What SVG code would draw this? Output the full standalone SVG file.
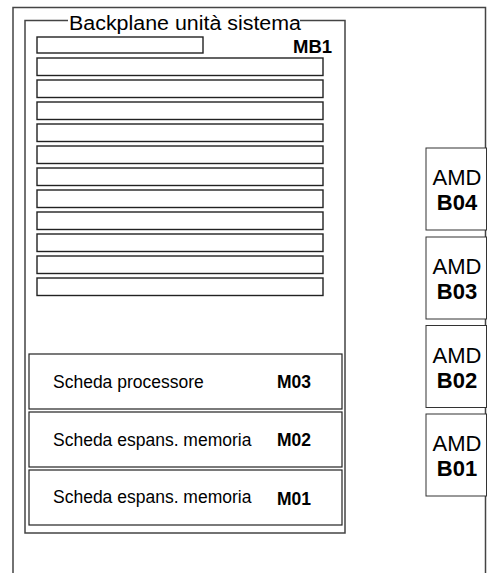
<svg xmlns="http://www.w3.org/2000/svg" width="489" height="573" viewBox="0 0 489 573">
<style>
  text { font-family: "Liberation Sans", Arial, sans-serif; fill: #000; }
  .frame { fill: none; stroke: #444; stroke-width: 1.5; }
  .slot { fill: #fff; stroke: #222; stroke-width: 1.4; }
  .card { fill: #fff; stroke: #222; stroke-width: 1.2; }
  .amd { fill: #fff; stroke: #333; stroke-width: 1; }
  .lbl { font-size: 17.5px; }
  .code { font-size: 17.5px; font-weight: bold; }
  .amdt { font-size: 22px; text-anchor: middle; }
  .amdb { font-size: 22px; font-weight: bold; text-anchor: middle; }
</style>
<rect width="489" height="573" fill="#fff"/>
<g id="enclosure">
  <path class="frame" d="M13,573 V7.5 H485.5 V573"/>
</g>
<g id="backplane">
  <path class="frame" d="M68,20.5 H25 V533 H345 V20.5 H300"/>
  <text x="69" y="29.5" font-size="19.5" textLength="232" lengthAdjust="spacingAndGlyphs">Backplane unità sistema</text>
  <text x="293" y="53.3" font-size="18.5" font-weight="bold">MB1</text>
  <rect class="slot" x="37" y="37" width="166" height="16"/>
  <rect class="slot" x="37" y="58" width="286" height="17.5"/>
  <rect class="slot" x="37" y="80" width="286" height="17.5"/>
  <rect class="slot" x="37" y="102" width="286" height="17.5"/>
  <rect class="slot" x="37" y="124" width="286" height="17.5"/>
  <rect class="slot" x="37" y="146" width="286" height="17.5"/>
  <rect class="slot" x="37" y="168" width="286" height="17.5"/>
  <rect class="slot" x="37" y="190" width="286" height="17.5"/>
  <rect class="slot" x="37" y="212" width="286" height="17.5"/>
  <rect class="slot" x="37" y="234" width="286" height="17.5"/>
  <rect class="slot" x="37" y="256" width="286" height="17.5"/>
  <rect class="slot" x="37" y="278" width="286" height="17.5"/>
</g>
<g id="M03">
  <rect class="card" x="29" y="354" width="313" height="55"/>
  <text class="lbl" x="53" y="388">Scheda processore</text>
  <text class="code" x="277" y="388">M03</text>
</g>
<g id="M02">
  <rect class="card" x="29" y="412" width="313" height="55"/>
  <text class="lbl" x="53" y="445.5">Scheda espans. memoria</text>
  <text class="code" x="277" y="446">M02</text>
</g>
<g id="M01">
  <rect class="card" x="29" y="470" width="313" height="55"/>
  <text class="lbl" x="53" y="503">Scheda espans. memoria</text>
  <text class="code" x="277" y="504.5">M01</text>
</g>
<g id="B04">
  <rect class="amd" x="426" y="148" width="60.5" height="82"/>
  <text class="amdt" x="457" y="185">AMD</text>
  <text class="amdb" x="457" y="210">B04</text>
</g>
<g id="B03">
  <rect class="amd" x="426" y="237" width="60.5" height="82"/>
  <text class="amdt" x="457" y="274">AMD</text>
  <text class="amdb" x="457" y="299">B03</text>
</g>
<g id="B02">
  <rect class="amd" x="426" y="325.5" width="60.5" height="82"/>
  <text class="amdt" x="457" y="362.5">AMD</text>
  <text class="amdb" x="457" y="387.5">B02</text>
</g>
<g id="B01">
  <rect class="amd" x="426" y="414" width="60.5" height="82"/>
  <text class="amdt" x="457" y="451">AMD</text>
  <text class="amdb" x="457" y="476">B01</text>
</g>
<g id="connectors"></g>
</svg>
